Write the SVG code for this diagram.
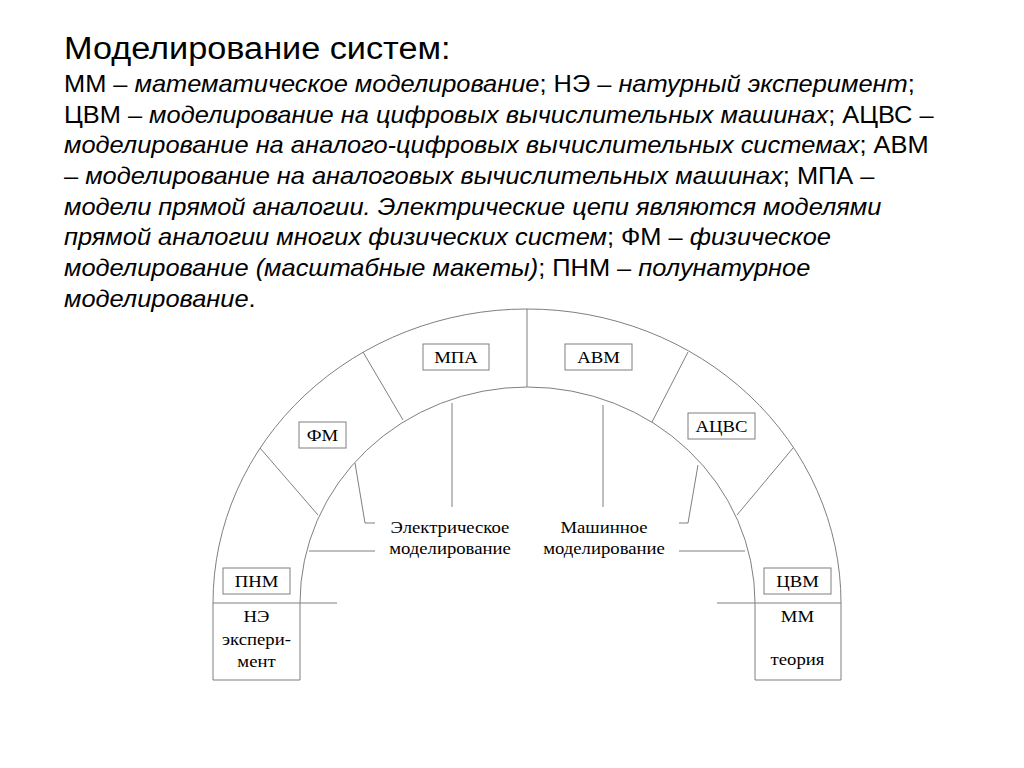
<svg xmlns="http://www.w3.org/2000/svg" width="1024" height="768" viewBox="0 0 1024 768">
<style>
.t{font-family:"Liberation Sans",Arial,sans-serif;fill:#000;transform-box:fill-box;transform-origin:left center;transform:scaleX(1.105)}
.b{font-size:23px}
.i{font-style:italic}
.ln{fill:none;stroke:#7f7f7f;stroke-width:1}
.box{fill:#fff;stroke:#7f7f7f;stroke-width:1}
.lb{font-family:"Liberation Serif","Times New Roman",serif;font-size:17px;fill:#000;text-anchor:middle;transform-box:fill-box;transform-origin:center;transform:scaleX(1.1)}
</style>
<rect width="1024" height="768" fill="#fff"/>
<g id="text">
<text class="t" x="64" y="59" font-size="31">Моделирование систем:</text>
<text class="t b" x="64" y="92">ММ – <tspan class="i">математическое моделирование</tspan>; НЭ – <tspan class="i">натурный эксперимент</tspan>;</text>
<text class="t b" x="64" y="122.7">ЦВМ – <tspan class="i">моделирование на цифровых вычислительных машинах</tspan>; АЦВС –</text>
<text class="t b" x="64" y="153.4"><tspan class="i">моделирование на аналого-цифровых вычислительных системах</tspan>; АВМ</text>
<text class="t b" x="64" y="184.1">– <tspan class="i">моделирование на аналоговых вычислительных машинах</tspan>; МПА –</text>
<text class="t b i" x="64" y="214.8">модели прямой аналогии. Электрические цепи являются моделями</text>
<text class="t b" x="64" y="245.5"><tspan class="i">прямой аналогии многих физических систем</tspan>; ФМ – <tspan class="i">физическое</tspan></text>
<text class="t b" x="64" y="276.2"><tspan class="i">моделирование (масштабные макеты)</tspan>; ПНМ – <tspan class="i">полунатурное</tspan></text>
<text class="t b" x="64" y="306.9"><tspan class="i">моделирование</tspan>.</text>
</g>
<g id="connectors">
<path class="ln" d="M213 603 A314 294 0 0 1 841 603"/>
<path class="ln" d="M300 603 A227.5 216 0 0 1 755 603"/>
<line class="ln" x1="527" y1="309" x2="527" y2="387"/>
<line class="ln" x1="363" y1="352" x2="403" y2="420"/>
<line class="ln" x1="260" y1="448" x2="318" y2="515"/>
<line class="ln" x1="688" y1="352" x2="652" y2="422"/>
<line class="ln" x1="793" y1="448" x2="737" y2="515"/>
<line class="ln" x1="452" y1="403" x2="452" y2="507"/>
<line class="ln" x1="603" y1="405" x2="603" y2="507"/>
<polyline class="ln" points="355,463 365,523 375,523"/>
<polyline class="ln" points="698,465 688,523 679,523"/>
<line class="ln" x1="309" y1="551" x2="375" y2="551"/>
<line class="ln" x1="679" y1="551" x2="745" y2="551"/>
<line class="ln" x1="213" y1="603" x2="337" y2="603"/>
<line class="ln" x1="717" y1="603" x2="841" y2="603"/>
</g>
<g id="mpa"><rect class="box" x="423" y="344" width="66" height="26"/><text class="lb" x="456" y="363">МПА</text></g>
<g id="avm"><rect class="box" x="565" y="344" width="67" height="26"/><text class="lb" x="598.5" y="363">АВМ</text></g>
<g id="fm"><rect class="box" x="299" y="422" width="47" height="26"/><text class="lb" x="322.5" y="441">ФМ</text></g>
<g id="acvs"><rect class="box" x="688" y="413" width="67" height="26"/><text class="lb" x="721.5" y="432">АЦВС</text></g>
<g id="pnm"><rect class="box" x="223" y="568" width="67" height="26"/><text class="lb" x="256.5" y="587">ПНМ</text></g>
<g id="cvm"><rect class="box" x="764" y="568" width="67" height="26"/><text class="lb" x="797.5" y="587">ЦВМ</text></g>
<g id="electric"><text class="lb" x="450" y="533">Электрическое</text><text class="lb" x="450" y="554">моделирование</text></g>
<g id="machine"><text class="lb" x="604" y="533">Машинное</text><text class="lb" x="604" y="554">моделирование</text></g>
<g id="ne"><path class="ln" d="M213 603 V680 H300 V603"/><text class="lb" x="256.5" y="622">НЭ</text><text class="lb" x="256.5" y="645">экспери-</text><text class="lb" x="256.5" y="667">мент</text></g>
<g id="mm"><path class="ln" d="M755 603 V680 H841 V603"/><text class="lb" x="797.5" y="622">ММ</text><text class="lb" x="797.5" y="665">теория</text></g>
</svg>
